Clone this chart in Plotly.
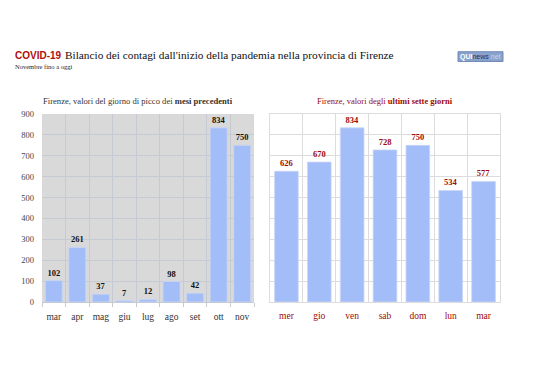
import plotly.graph_objects as go

months = ["mar", "apr", "mag", "giu", "lug", "ago", "set", "ott", "nov"]
month_peaks = [102, 261, 37, 7, 12, 98, 42, 834, 750]
days = ["mer", "gio", "ven", "sab", "dom", "lun", "mar"]
day_values = [626, 670, 834, 728, 750, 534, 577]
y_ticks = [0, 100, 200, 300, 400, 500, 600, 700, 800, 900]

SERIF = "Liberation Serif"
BAR = "#a3bdf8"
RED = "#9c0a0a"

fig = go.Figure()
fig.add_trace(go.Bar(
    x=months, y=month_peaks, xaxis="x", yaxis="y",
    marker=dict(color=BAR, line=dict(color="#c9d6f5", width=0.8)),
    width=0.72,
    text=[str(v) for v in month_peaks], textposition="outside",
    textfont=dict(family=SERIF, size=8.5, color="#111111"),
    texttemplate="<b>%{text}</b>", cliponaxis=False, showlegend=False,
))
fig.add_trace(go.Bar(
    x=days, y=day_values, xaxis="x2", yaxis="y2",
    marker=dict(color=BAR, line=dict(color="#c9d6f5", width=0.8)),
    width=0.72,
    text=[str(v) for v in day_values], textposition="outside",
    textfont=dict(family=SERIF, size=8.5, color=RED),
    texttemplate="<b>%{text}</b>", cliponaxis=False, showlegend=False,
))

W, H = 538, 380
def px(x):
    return x / W
def py(y):
    return 1 - y / H

fig.update_layout(
    width=W, height=H,
    margin=dict(l=0, r=0, t=0, b=0),
    paper_bgcolor="white", plot_bgcolor="white",
    bargap=0.28,
    xaxis=dict(domain=[px(42), px(254)], anchor="y", tickson="boundaries",
               showgrid=True, gridcolor="#c6cad3", gridwidth=1, tickangle=0,
               ticks="outside", ticklen=4, tickcolor="#c6cad3", ticklabelstandoff=6,
               tickfont=dict(family=SERIF, size=9.5, color="#333333"),
               showline=True, linecolor="#c6cad3", zeroline=False, fixedrange=True),
    yaxis=dict(domain=[py(305), py(112)], anchor="x", range=[0, 900],
               tickvals=y_ticks, showgrid=True, gridcolor="#c6cad3", gridwidth=1,
               tickfont=dict(family=SERIF, size=8.5, color="#444444"),
               ticklabelstandoff=7, zeroline=False, showline=False),
    xaxis2=dict(domain=[px(270), px(500)], anchor="y2", tickson="boundaries",
                showgrid=True, gridcolor="#dcdcdc", gridwidth=1, tickangle=0,
                ticks="", ticklabelstandoff=5, tickfont=dict(family=SERIF, size=9.5, color=RED),
                showline=True, linecolor="#dcdcdc", mirror=True, zeroline=False),
    yaxis2=dict(domain=[py(305), py(112)], anchor="x2", range=[0, 900],
                tickvals=y_ticks, showgrid=True, gridcolor="#dcdcdc", gridwidth=1,
                showticklabels=False, showline=True, linecolor="#dcdcdc",
                mirror=True, zeroline=False),
    shapes=[
        dict(type="rect", xref="x domain", yref="y domain", x0=0, x1=1, y0=0, y1=1,
             fillcolor="#d9d9d9", line=dict(width=0), layer="below"),
        dict(type="rect", xref="paper", yref="paper", x0=px(458), x1=px(503),
             y0=py(58), y1=py(48), fillcolor="#8aa3cc", line=dict(color="#6f88b5", width=1)),
    ],
    annotations=[
        dict(text="<b>COVID-19</b>", x=px(13), y=py(52), xref="paper", yref="paper",
             xanchor="left", yanchor="middle", showarrow=False,
             font=dict(family="Liberation Sans", size=10, color="#b30d0d")),
        dict(text="Bilancio dei contagi dall'inizio della pandemia nella provincia di Firenze",
             x=px(63), y=py(51.5), xref="paper", yref="paper",
             xanchor="left", yanchor="middle", showarrow=False,
             font=dict(family=SERIF, size=11.3, color="#111111")),
        dict(text="Novembre fino a oggi", x=px(13), y=py(63.5), xref="paper", yref="paper",
             xanchor="left", yanchor="middle", showarrow=False,
             font=dict(family=SERIF, size=6.5, color="#222222")),
        dict(text="Firenze, valori del giorno di picco dei <b>mesi precedenti</b>",
             x=px(138), y=py(99), xref="paper", yref="paper",
             xanchor="center", yanchor="middle", showarrow=False,
             font=dict(family=SERIF, size=8.6, color="#333333")),
        dict(text="Firenze, valori degli <b>ultimi sette giorni</b>",
             x=px(385), y=py(99), xref="paper", yref="paper",
             xanchor="center", yanchor="middle", showarrow=False,
             font=dict(family=SERIF, size=8.5, color=RED)),
        dict(text="<b>QUI</b><span style='color:#1d3563'>news</span><span style='color:#c5d3ee'>.net</span>",
             x=px(480.5), y=py(53), xref="paper", yref="paper",
             xanchor="center", yanchor="middle", showarrow=False,
             font=dict(family="Liberation Sans", size=7, color="white")),
    ],
)

fig.write_html("out.html")
